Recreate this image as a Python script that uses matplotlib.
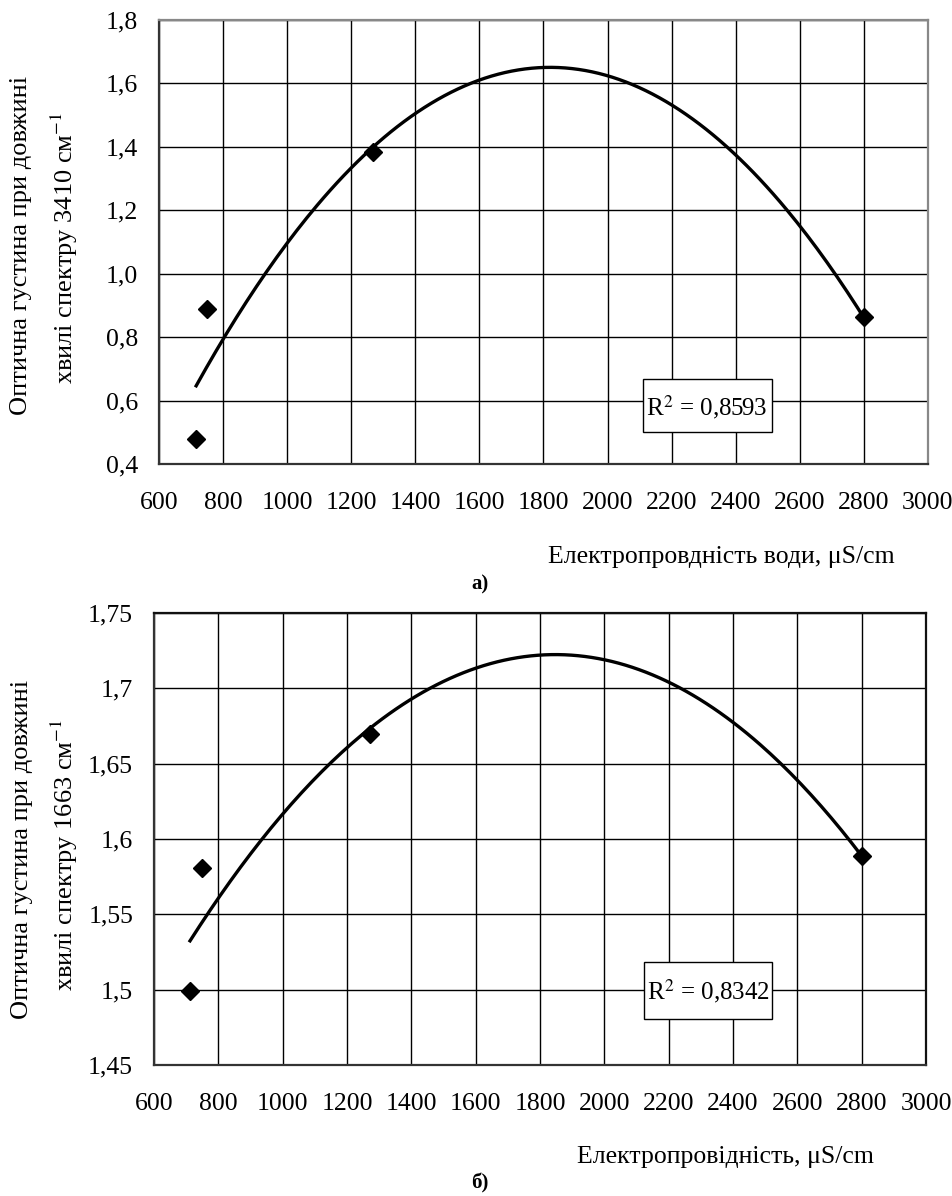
import numpy as np
import matplotlib
matplotlib.use('Agg')
import matplotlib.pyplot as plt
from matplotlib.patches import Rectangle
from matplotlib.ticker import FuncFormatter

plt.rcParams['font.family'] = ['Liberation Serif', 'DejaVu Serif']
plt.rcParams['mathtext.fontset'] = 'stix'

# data
cond_a = [716, 751, 1269, 2800]
od_a = [0.48, 0.89, 1.385, 0.862]
cond_b = [712, 749, 1270, 2800]
od_b = [1.499, 1.581, 1.670, 1.589]

x_ticks = list(range(600, 3001, 200))
y_ticks_a = [0.4, 0.6, 0.8, 1.0, 1.2, 1.4, 1.6, 1.8]
y_ticks_b = [1.45, 1.5, 1.55, 1.6, 1.65, 1.7, 1.75]

r2_a = "R$^2$ = 0,8593"
r2_b = "R$^2$ = 0,8342"

FS = 18.5

def fmt_a(v, pos):
    return ("%.1f" % v).replace('.', ',')

def fmt_b(v, pos):
    s = ("%.2f" % v).rstrip('0')
    return s.replace('.', ',')

def draw_panel(fig, rect, xs, ys, yticks, fmt, frame_col):
    ax = fig.add_axes(rect)
    # quadratic trendline, as in the original spreadsheet
    coef = np.polyfit(xs, ys, 2)
    xx = np.linspace(min(xs), max(xs), 200)
    ax.plot(xx, np.polyval(coef, xx), color='black', lw=2.4, zorder=3)
    ax.plot(xs, ys, 'D', color='black', markersize=9, zorder=4)
    ax.set_xlim(600, 3000)
    ax.set_ylim(yticks[0], yticks[-1])
    ax.set_xticks(x_ticks)
    ax.set_yticks(yticks)
    ax.yaxis.set_major_formatter(FuncFormatter(fmt))
    ax.grid(True, color='black', lw=1.0)
    ax.set_axisbelow(True)
    ax.tick_params(length=0, labelsize=FS)
    ax.tick_params(axis='x', pad=20)
    ax.tick_params(axis='y', pad=15)
    for s in ['left', 'bottom']:
        ax.spines[s].set_color('#333333')
        ax.spines[s].set_linewidth(1.6)
    for s in ['top', 'right']:
        ax.spines[s].set_color(frame_col)
        ax.spines[s].set_linewidth(1.6)
    return ax

W, H = 953, 1196
fig = plt.figure(figsize=(W / 100, H / 100), dpi=100)

def fx(px):
    return px / W

def fy(py):
    return 1 - py / H

# panel a
draw_panel(fig, [fx(159), fy(464), fx(928) - fx(159), fy(20) - fy(464)],
           cond_a, od_a, y_ticks_a, fmt_a, '#888888')
fig.text(fx(21), fy(245), "Оптична густина при довжині", rotation=90,
         ha='center', va='center', fontsize=19)
fig.text(fx(64), fy(248), "хвилі спектру 3410 см$^{-1}$", rotation=90,
         ha='center', va='center', fontsize=19)
fig.text(fx(721), fy(557), "Електропровдність води, μS/cm",
         ha='center', va='center', fontsize=FS)
fig.text(fx(480), fy(584), "а)", ha='center', va='center',
         fontsize=15, fontweight='bold')
fig.patches.append(Rectangle((fx(643), fy(432)), fx(772) - fx(643),
                             fy(379) - fy(432), transform=fig.transFigure,
                             facecolor='white', edgecolor='black', lw=1.0,
                             zorder=5))
fig.text(fx(707), fy(407), r2_a, ha='center', va='center', fontsize=18,
         zorder=6)

# panel b
draw_panel(fig, [fx(154), fy(1065), fx(926) - fx(154), fy(613) - fy(1065)],
           cond_b, od_b, y_ticks_b, fmt_b, '#111111')
fig.text(fx(22), fy(849), "Оптична густина при довжині", rotation=90,
         ha='center', va='center', fontsize=19)
fig.text(fx(64), fy(855), "хвилі спектру 1663 см$^{-1}$", rotation=90,
         ha='center', va='center', fontsize=19)
fig.text(fx(725), fy(1157), "Електропровідність, μS/cm",
         ha='center', va='center', fontsize=FS)
fig.text(fx(480), fy(1183), "б)", ha='center', va='center',
         fontsize=15, fontweight='bold')
fig.patches.append(Rectangle((fx(644), fy(1019)), fx(772) - fx(644),
                             fy(962) - fy(1019), transform=fig.transFigure,
                             facecolor='white', edgecolor='black', lw=1.0,
                             zorder=5))
fig.text(fx(708), fy(991), r2_b, ha='center', va='center', fontsize=18,
         zorder=6)

fig.savefig('out.png', dpi=100)
